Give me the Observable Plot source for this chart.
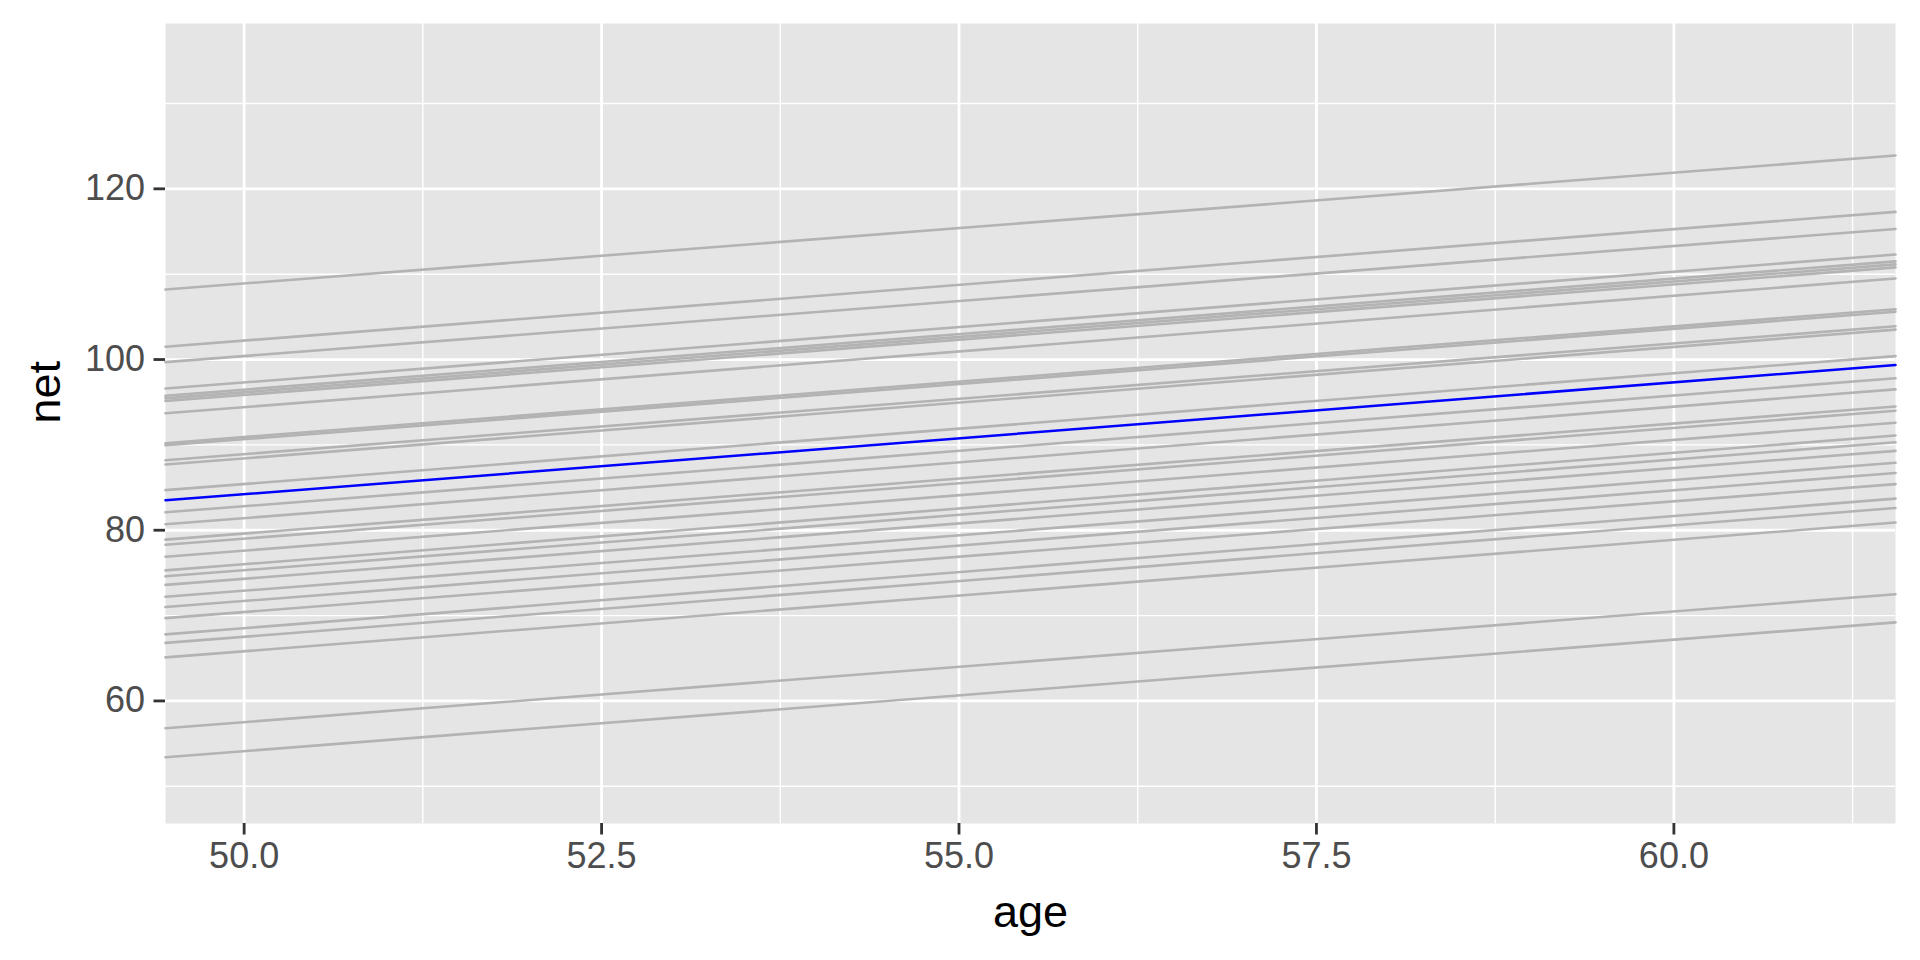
<!DOCTYPE html>
<html><head><meta charset="utf-8">
<script src="https://cdn.jsdelivr.net/npm/d3@7"></script>
<script src="https://cdn.jsdelivr.net/npm/@observablehq/plot@0.6"></script>
<style>html,body{margin:0;padding:0;background:#fff;}</style>
</head><body><div id="chart"></div>
<script>
// Age range spanned by every fitted line (panel edges)
const ageRange = [49.45, 61.55];
const netDomain = [45.64, 139.37];
// Gray lines: net at the left and right ends of the age range
const netAtLeft  = [108.2, 101.5, 99.7, 96.6, 95.75, 95.45, 95.15, 93.7, 90.2, 89.95, 88.2, 87.7, 84.7, 82.1, 80.7, 78.9, 78.3, 76.9, 75.3, 74.6, 73.6, 72.2, 71.0, 69.7, 67.8, 66.8, 65.1, 56.8, 53.4];
const netAtRight = [123.9, 117.3, 115.3, 112.3, 111.5, 111.15, 110.8, 109.5, 105.9, 105.6, 103.9, 103.5, 100.4, 97.8, 96.5, 94.5, 94.0, 92.6, 91.1, 90.3, 89.3, 87.9, 86.7, 85.4, 83.7, 82.6, 80.9, 72.5, 69.2];
// Highlighted (blue) line
const blueLeft = 83.5;
const blueRight = 99.35;
// Axis ticks
const xTicks = [50, 52.5, 55, 57.5, 60];
const xMinor = [51.25, 53.75, 56.25, 58.75, 61.25];
const yTicks = [60, 80, 100, 120];
const yMinor = [50, 70, 90, 110, 130];

const grayRows = netAtLeft.flatMap((v, i) => [
  {id: i, age: ageRange[0], net: v},
  {id: i, age: ageRange[1], net: netAtRight[i]}
]);
const blueRows = [{age: ageRange[0], net: blueLeft}, {age: ageRange[1], net: blueRight}];

const font = "'Liberation Sans', Arial, Helvetica, sans-serif";

const chart = Plot.plot({
  width: 1920,
  height: 960,
  marginLeft: 165,
  marginRight: 25,
  marginTop: 23,
  marginBottom: 137,
  style: {fontFamily: font, background: "#fff"},
  x: {domain: ageRange},
  y: {domain: netDomain},
  marks: [
    Plot.frame({fill: "#e5e5e5", stroke: null}),
    Plot.gridX(xMinor, {stroke: "#fff", strokeOpacity: 1, strokeWidth: 1.4}),
    Plot.gridY(yMinor, {stroke: "#fff", strokeOpacity: 1, strokeWidth: 1.4}),
    Plot.gridX(xTicks, {stroke: "#fff", strokeOpacity: 1, strokeWidth: 2.8}),
    Plot.gridY(yTicks, {stroke: "#fff", strokeOpacity: 1, strokeWidth: 2.8}),
    Plot.line(grayRows, {x: "age", y: "net", z: "id", stroke: "#b3b3b3", strokeWidth: 2.6}),
    Plot.line(blueRows, {x: "age", y: "net", stroke: "#0000ff", strokeWidth: 2.5}),
    Plot.axisX(xTicks, {tickFormat: d => d.toFixed(1), tickSize: 11.5, tickPadding: 7, strokeWidth: 2.8, stroke: "#333333", fill: "#4d4d4d", fontSize: 36, label: null}),
    Plot.axisY(yTicks, {tickSize: 11.5, tickPadding: 9, strokeWidth: 2.8, stroke: "#333333", fill: "#4d4d4d", fontSize: 36, label: null}),
    Plot.text(["age"], {frameAnchor: "bottom", dy: 89, text: d => d, fontSize: 45, fill: "#000", lineAnchor: "middle"}),
    Plot.text(["net"], {frameAnchor: "left", dx: -120, text: d => d, fontSize: 45, fill: "#000", rotate: -90, lineAnchor: "middle"})
  ]
});
document.getElementById("chart").appendChild(chart);
</script>
</body></html>
